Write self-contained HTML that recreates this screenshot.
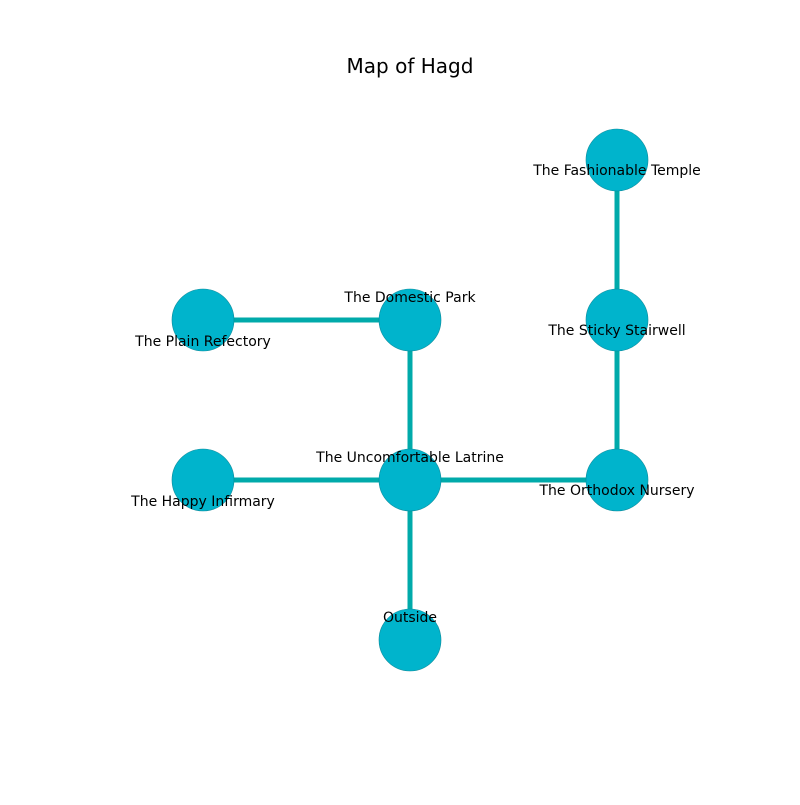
<!DOCTYPE html>
<html><head><style>body{margin:0;background:#fff}</style></head><body>
<svg width="800" height="800" xmlns="http://www.w3.org/2000/svg" font-family="DejaVu Sans, Liberation Sans, sans-serif">
<rect width="800" height="800" fill="#fff"/>
<text x="410" y="73" font-size="20" text-anchor="middle">Map of Hagd</text>
<g stroke="#00aaaa" stroke-width="5">
<line x1="617" y1="160" x2="617" y2="480"/>
<line x1="203" y1="320" x2="410" y2="320"/>
<line x1="410" y1="320" x2="410" y2="640"/>
<line x1="203" y1="480" x2="617" y2="480"/>
</g>
<g fill="#00b4cc" stroke="#0a8a9a" stroke-width="0.6">
<circle cx="617" cy="160" r="31"/>
<circle cx="617" cy="320" r="31"/>
<circle cx="617" cy="480" r="31"/>
<circle cx="410" cy="320" r="31"/>
<circle cx="203" cy="320" r="31"/>
<circle cx="410" cy="480" r="31"/>
<circle cx="203" cy="480" r="31"/>
<circle cx="410" cy="640" r="31"/>
</g>
<g font-size="14" text-anchor="middle" fill="#000">
<text x="617" y="175">The Fashionable Temple</text>
<text x="617" y="335">The Sticky Stairwell</text>
<text x="617" y="495">The Orthodox Nursery</text>
<text x="410" y="302">The Domestic Park</text>
<text x="203" y="346">The Plain Refectory</text>
<text x="410" y="462">The Uncomfortable Latrine</text>
<text x="203" y="506">The Happy Infirmary</text>
<text x="410" y="622">Outside</text>
</g>
</svg>
</body></html>
